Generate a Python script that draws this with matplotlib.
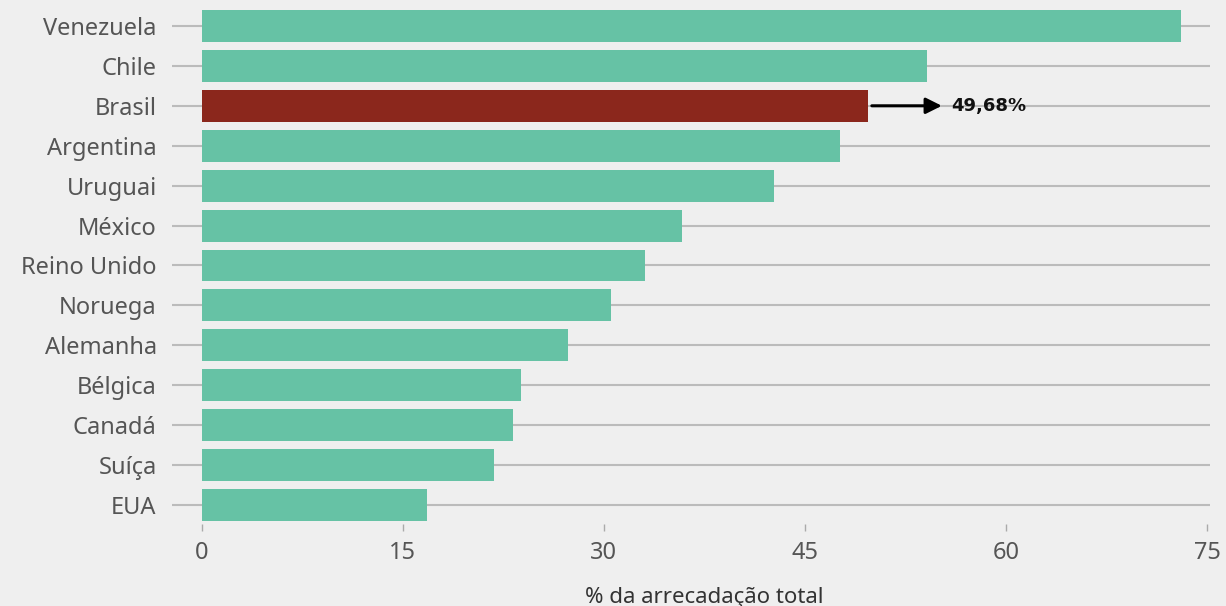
"""Carga tributária sobre o consumo - barras horizontais."""

from matplotlib import pyplot as plt

paises = ['Venezuela', 'Chile', 'Brasil', 'Argentina', 'Uruguai', 'México',
          'Reino Unido', 'Noruega', 'Alemanha', 'Bélgica', 'Canadá', 'Suíça',
          'EUA']
valores = [73.0, 54.1, 49.68, 47.6, 42.7, 35.8, 33.1, 30.5, 27.3, 23.8, 23.2,
           21.8, 16.8]
destaque = 'Brasil'
rotulo_destaque = '49,68%'
xticks = [0, 15, 30, 45, 60, 75]

VERDE = '#66c2a5'
VERMELHO = '#8b271c'
FUNDO = '#efefef'
CINZA = '#555555'


def plot_barras():
    """Desenha o grafico."""
    plt.rcParams['font.family'] = ['Noto Sans', 'DejaVu Sans']
    fig = plt.figure(figsize=(12.26, 6.06), dpi=100, facecolor=FUNDO)
    ax = fig.add_axes([0.1403, 0.1353, 0.8467, 0.8647], facecolor=FUNDO)

    pos = list(range(len(paises)))
    cores = [VERMELHO if p == destaque else VERDE for p in paises]
    ax.barh(pos, valores, height=0.8, color=cores, zorder=2)
    for y in pos:
        ax.axhline(y, color='#bbbbbb', lw=1.5, zorder=1)

    i = paises.index(destaque)
    v = valores[i]
    ax.annotate('', xy=(55.2, i), xytext=(v + 0.3, i),
                arrowprops=dict(arrowstyle='-|>', color='black', lw=2.2,
                                mutation_scale=24, shrinkA=0, shrinkB=0),
                zorder=3)
    ax.text(55.9, i, rotulo_destaque, va='center', ha='left',
            fontsize=13, fontweight='bold', color='#111111',
            family='DejaVu Sans')

    ax.set_xlim(-2.2, 75.2)
    ax.set_ylim(12.475, -0.65)
    ax.set_yticks(pos)
    ax.set_yticklabels(paises)
    ax.set_xticks(xticks)
    ax.tick_params(axis='y', length=0, pad=11, labelsize=17, labelcolor=CINZA)
    ax.tick_params(axis='x', length=5, width=1, color='#aaaaaa', pad=7,
                   labelsize=17, labelcolor=CINZA)
    for s in ax.spines.values():
        s.set_visible(False)
    ax.set_xlabel('% da arrecadação total', fontsize=16, color='#333333',
                  labelpad=16, x=0.513)
    fig.savefig('out.png', dpi=100, facecolor=FUNDO)


def main():
    """Executa."""
    plot_barras()


if __name__ == '__main__':
    main()
